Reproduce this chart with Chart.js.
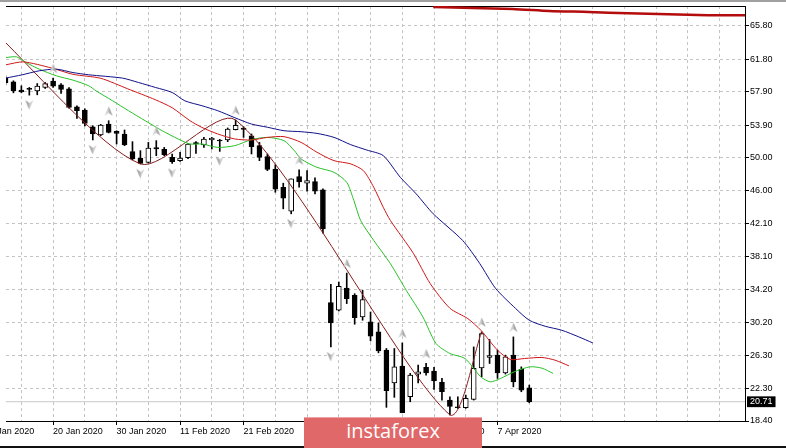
<!DOCTYPE html>
<html>
<head>
<meta charset="utf-8">
<title>Daily chart</title>
<script src="https://cdn.jsdelivr.net/npm/chart.js@4.4.1/dist/chart.umd.min.js"></script>
<style>
  html, body { margin: 0; padding: 0; background: #fff; }
  #wrap { position: relative; width: 786px; height: 448px; overflow: hidden; background: #fff; }
  #chart { position: absolute; left: 0; top: 0; }
  #frameTop { position: absolute; left: 0; top: 0; width: 786px; height: 2px; background: #a0a0a0; }
  #frameBottom { position: absolute; left: 0; top: 446px; width: 786px; height: 2px; background: #111; }
  #brand {
    position: absolute; left: 304px; top: 417px; width: 178px; height: 31px;
    background: #e06868; border-top: 1px solid #eea4a4; box-sizing: border-box;
    color: #fff; font: 400 20px "Open Sans", sans-serif; line-height: 26px; text-align: center;
  }
</style>
</head>
<body>
<div id="wrap">
  <canvas id="chart" width="786" height="448"></canvas>
  <div id="frameTop"></div>
  <div id="frameBottom"></div>
  <div id="brand">instaforex</div>
</div>
<script>
// daily bars, bar 0 = 10 Jan 2020, one label every 8 bars starting at bar -2
const dateLabels = ['8 Jan 2020', '20 Jan 2020', '30 Jan 2020', '11 Feb 2020', '21 Feb 2020',
                    '4 Mar 2020', '16 Mar 2020', '26 Mar 2020', '7 Apr 2020'];

const opens = [
  59.58, 59.10, 58.10, 58.26, 58.02, 58.42, 59.18, 58.74, 58.26, 56.10,
  55.71, 53.71, 52.72, 54.04, 53.15, 52.84, 50.72, 49.96, 49.44, 51.20,
  50.99, 50.04, 49.64, 50.00, 51.80, 51.52, 52.12, 52.12, 52.12, 53.35,
  53.56, 52.63, 51.44, 50.12, 48.62, 46.45, 43.57, 47.73, 46.93, 47.13,
  46.13, 32.61, 31.69, 34.36, 33.48, 30.88, 30.29, 29.09, 26.90, 22.98,
  24.98, 21.31, 24.03, 24.83, 24.38, 23.03, 20.91, 20.11, 19.99, 21.00,
  24.78, 26.02, 26.30, 24.18, 26.30, 24.59, 22.39
];
const highs = [
  59.82, 59.22, 58.62, 58.42, 58.89, 59.02, 59.54, 58.89, 58.42, 56.22,
  55.87, 53.83, 53.99, 54.43, 53.23, 53.32, 51.92, 50.84, 51.83, 52.04,
  51.23, 50.44, 50.64, 51.68, 51.92, 52.43, 52.43, 52.19, 53.56, 54.51,
  53.71, 52.84, 51.83, 50.44, 49.16, 46.93, 47.45, 48.53, 48.44, 47.57,
  46.25, 34.80, 35.08, 36.15, 33.68, 34.08, 31.48, 30.17, 27.10, 27.10,
  27.77, 24.11, 25.10, 25.31, 24.83, 23.51, 21.31, 21.31, 21.51, 27.29,
  29.09, 28.18, 26.90, 26.30, 28.49, 24.90, 22.71
];
const lows = [
  58.74, 57.78, 57.78, 57.50, 57.54, 58.30, 58.42, 57.70, 55.95, 54.70,
  53.80, 52.12, 52.63, 52.96, 51.64, 51.44, 49.73, 49.25, 49.37, 50.24,
  50.24, 49.32, 49.56, 49.88, 50.52, 51.23, 51.04, 50.75, 51.92, 53.32,
  52.43, 50.44, 49.64, 48.44, 45.85, 43.86, 43.26, 46.45, 45.97, 45.66,
  40.94, 27.29, 31.60, 32.49, 30.01, 30.49, 28.01, 26.58, 20.04, 21.24,
  19.39, 20.71, 22.98, 23.91, 22.20, 20.91, 19.12, 19.92, 19.92, 20.91,
  23.70, 25.30, 23.51, 24.03, 22.50, 21.91, 20.59
];
const closes = [
  58.98, 58.02, 57.90, 58.19, 58.58, 58.89, 58.58, 58.18, 56.02, 55.63,
  54.11, 52.84, 53.92, 53.03, 52.91, 51.52, 49.84, 49.32, 51.16, 51.04,
  50.36, 49.52, 49.96, 51.64, 51.64, 52.24, 52.36, 52.00, 53.44, 53.87,
  53.39, 51.32, 50.04, 48.60, 46.21, 45.13, 47.45, 47.09, 47.25, 45.97,
  41.46, 30.17, 34.56, 33.09, 30.81, 32.97, 28.57, 26.81, 22.03, 24.90,
  19.39, 23.91, 24.30, 24.18, 23.22, 21.91, 20.16, 19.99, 21.12, 24.71,
  28.90, 26.26, 24.18, 26.10, 23.10, 22.11, 20.71
];

// Alligator lines: [bar, price]
const jaw = [
  [0, 59.54], [2.1, 59.94], [4.25, 60.42], [6.4, 60.62], [8.5, 60.21], [10.5, 59.94],
  [14.75, 59.54], [16.75, 59.02], [18.9, 58.42], [21, 57.82], [22.6, 56.82], [24.75, 56.23],
  [26.75, 55.63], [28.9, 54.79], [31, 54.03], [33, 53.65], [35.1, 53.23], [37.25, 53.11],
  [39.25, 52.91], [41.4, 52.43], [43.5, 51.56], [45.5, 50.92], [47.6, 50.24], [49.75, 47.64],
  [51.75, 45.66], [53.9, 43.26], [57.6, 40.07], [59.75, 37.31], [61.75, 34.32], [64.25, 31.93],
  [66, 30.49], [68, 29.77], [70.1, 29.29], [72.25, 28.49], [74, 27.77]
];
const teeth = [
  [0, 61.13], [2.25, 61.49], [5.75, 60.77], [8.5, 60.00], [12, 59.52], [15.4, 58.26],
  [18.9, 56.94], [21, 55.99], [23.25, 54.43], [24.75, 53.63], [26.75, 52.84], [28.9, 52.24],
  [31, 52.12], [33, 52.43], [35.1, 52.52], [37.25, 51.83], [39.25, 50.64], [41.4, 49.64],
  [43.5, 49.25], [45.1, 48.44], [46.4, 46.45], [47.6, 44.05], [48.5, 42.46], [51.4, 38.51],
  [53.5, 34.92], [56, 31.93], [58.25, 30.69], [59.9, 29.29], [62, 26.90], [63.6, 25.79],
  [65.4, 25.90], [67.6, 26.02], [69.25, 25.70], [71, 25.02]
];
const lips = [
  [0, 62.01], [1.4, 62.09], [2.6, 61.41], [4.25, 60.62], [6.4, 59.82], [8.5, 59.30],
  [10.5, 58.62], [11.4, 58.02], [13.5, 56.82], [15.5, 55.63], [17.6, 54.43], [19.75, 53.23],
  [21.75, 52.24], [23.25, 51.64], [24.75, 51.64], [26.75, 51.23], [28.9, 51.44], [31, 52.16],
  [33, 52.43], [35.1, 52.04], [36.4, 50.84], [37.25, 49.84], [39.25, 48.84], [41.4, 48.24],
  [43, 47.04], [43.9, 44.85], [44.75, 42.46], [46.4, 40.07], [48.5, 37.28], [50.5, 34.08],
  [52.6, 30.88], [54.25, 27.70], [56, 26.50], [57.9, 25.90], [59.9, 23.70], [61.1, 23.10],
  [62.4, 23.51], [64.1, 24.30], [66.1, 24.90], [67.6, 24.74], [69, 24.11]
];
const zigzag = [[-2, 65.65], [17, 49.25], [29, 54.51], [56, 19.12], [60, 29.09]];
const topLine = [
  [53.9, 68.08], [63.9, 67.84], [68.5, 67.60], [73.5, 67.48], [78.5, 67.32],
  [83.5, 67.20], [88.5, 67.08], [93.2, 67.08]
];
const upFractals = [6, 13, 19, 29, 37, 43, 50, 53, 60, 64];
const downFractals = [3, 11, 17, 21, 27, 36, 41];

const yTicks = [18.40, 22.30, 26.30, 30.20, 34.20, 38.10, 42.10, 46.00, 50.00, 53.90, 57.90, 61.80, 65.80];
const lastPrice = 20.71;

const xMin = 0.0625, xMax = 93.1875;
const yMin = 18.40, yMax = 68.196;

Chart.defaults.font.family = '"Liberation Sans", Arial, sans-serif';
Chart.defaults.font.size = 9;
Chart.defaults.color = '#000';

// gray fractal arrowhead, drawn in the top part of a taller canvas so it sits ~10px off the bar
function arrowImage() {
  const c = document.createElement('canvas');
  c.width = 9; c.height = 30;
  const g = c.getContext('2d');
  g.beginPath();
  g.moveTo(4.5, 0.5); g.lineTo(8.5, 10); g.lineTo(4.5, 7); g.lineTo(0.5, 10); g.closePath();
  g.fillStyle = '#d0d0d0'; g.fill();
  g.beginPath();
  g.moveTo(4.5, 0.5); g.lineTo(8.5, 10); g.lineTo(4.5, 7); g.closePath();
  g.fillStyle = '#a8a8a8'; g.fill();
  return c;
}
const arrow = arrowImage();

const pts = arr => arr.map(p => ({ x: p[0], y: p[1] }));
const barIdx = opens.map((v, i) => i);
const wickData = barIdx.map(i => ({ x: i, y: [lows[i], highs[i]] }));
const bodyData = barIdx.map(i => ({ x: i, y: [opens[i], closes[i]] }));
const bodyFill = barIdx.map(i => closes[i] >= opens[i] ? '#ffffff' : '#000000');

const xGrid = [];
for (let b = -2; b <= 90; b += 4) xGrid.push(b);
const labelFor = v => ((v + 2) % 8 === 0 && dateLabels[(v + 2) / 8]) || '';
const isLast = ctx => ctx.tick && ctx.tick.value === lastPrice;

const lineDs = (data, color, width, order) => ({
  type: 'line', data: pts(data), borderColor: color, borderWidth: width,
  pointRadius: 0, tension: 0.25, fill: false, order: order
});

new Chart(document.getElementById('chart'), {
  type: 'bar',
  data: {
    datasets: [
      {
        type: 'scatter', data: upFractals.map(i => ({ x: i, y: highs[i] })),
        pointStyle: arrow, pointRadius: 5, order: 0
      },
      {
        type: 'scatter', data: downFractals.map(i => ({ x: i, y: lows[i] })),
        pointStyle: arrow, pointRotation: 180, pointRadius: 5, order: 0
      },
      lineDs(jaw, '#10108a', 1, 1),
      lineDs(teeth, '#d01818', 1, 1),
      lineDs(lips, '#28c028', 1, 1),
      lineDs(zigzag, '#861c1c', 1, 1),
      lineDs(topLine, '#b40c0c', 2.5, 1),
      {
        type: 'bar', data: bodyData, backgroundColor: bodyFill, borderColor: '#000',
        borderWidth: 1, borderSkipped: false, barThickness: 5, grouped: false,
        minBarLength: 1, order: 2
      },
      {
        type: 'bar', data: wickData, backgroundColor: '#000', borderWidth: 0,
        barThickness: 1, grouped: false, order: 3
      },
      {
        type: 'line', data: [{ x: xMin, y: lastPrice }, { x: xMax, y: lastPrice }],
        borderColor: '#c8c8c8', borderWidth: 1, pointRadius: 0, order: 4
      }
    ]
  },
  options: {
    responsive: false,
    animation: false,
    events: [],
    layout: { padding: { top: 5, left: 0, right: 0, bottom: 0 } },
    plugins: { legend: { display: false }, tooltip: { enabled: false } },
    scales: {
      x: {
        type: 'linear', position: 'bottom', min: xMin, max: xMax, offset: false, bounds: 'data',
        afterBuildTicks: s => { s.ticks = xGrid.map(v => ({ value: v })); },
        afterFit: s => { s.height = 27; s.paddingLeft = 0; s.paddingRight = 0; },
        grid: {
          offset: false, color: '#c4c4c4', lineWidth: 1, tickLength: 4,
          tickColor: ctx => (ctx.tick && labelFor(ctx.tick.value)) ? '#000' : 'rgba(0,0,0,0)'
        },
        border: { color: '#000', width: 1, dash: [3, 3] },
        ticks: {
          autoSkip: false, maxRotation: 0, minRotation: 0, align: 'start', padding: 1,
          color: '#000', callback: v => labelFor(v)
        }
      },
      x2: {
        type: 'linear', position: 'top', min: 0, max: 1,
        grid: { display: false, drawTicks: false },
        ticks: { display: false },
        border: { display: true, color: '#000' },
        afterFit: s => { s.height = 0; s.paddingLeft = 0; s.paddingRight = 0; }
      },
      y: {
        type: 'linear', position: 'right', min: yMin, max: yMax, bounds: 'data',
        afterBuildTicks: s => {
          s.ticks = yTicks.concat([lastPrice]).sort((a, b) => a - b).map(v => ({ value: v }));
        },
        afterFit: s => { s.width = 41; s.paddingTop = 0; s.paddingBottom = 0; },
        grid: {
          color: ctx => isLast(ctx) ? 'rgba(0,0,0,0)' : '#c4c4c4',
          tickLength: 4,
          tickColor: ctx => isLast(ctx) ? 'rgba(0,0,0,0)' : '#000'
        },
        border: { color: '#000', width: 1, dash: [3, 3] },
        ticks: {
          autoSkip: false, padding: 1,
          color: ctx => isLast(ctx) ? '#fff' : '#000',
          showLabelBackdrop: ctx => isLast(ctx),
          backdropColor: '#000',
          backdropPadding: { x: 3, y: 0 },
          callback: v => v.toFixed(2)
        }
      }
    }
  }
});
</script>
</body>
</html>
